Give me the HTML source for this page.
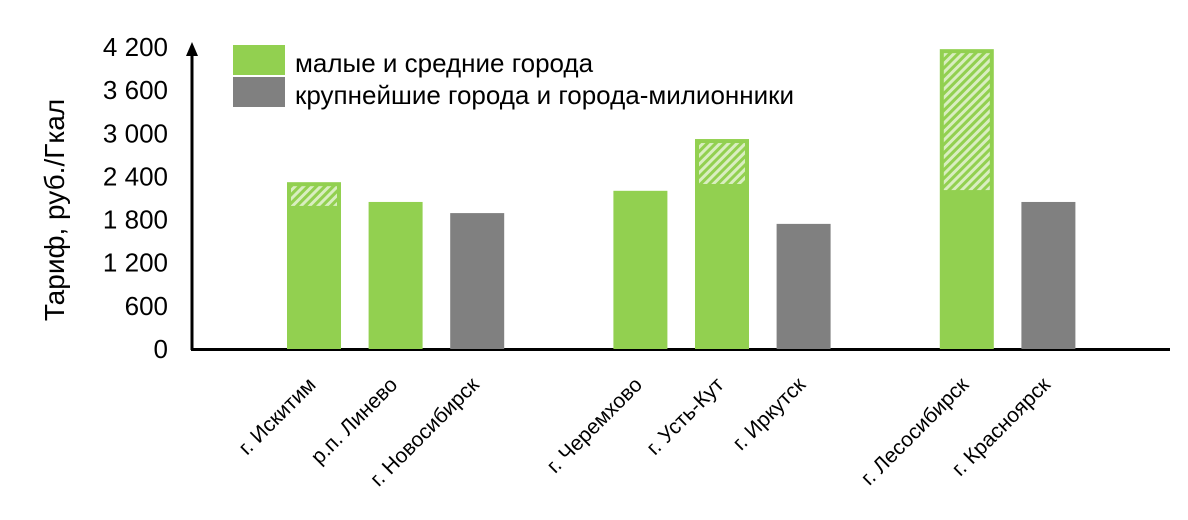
<!DOCTYPE html>
<html><head><meta charset="utf-8"><style>
body{margin:0;background:#fff}
svg{display:block;font-family:"Liberation Sans",Arial,sans-serif}
</style></head><body>
<svg id="chart" width="1188" height="520" viewBox="0 0 1188 520">
<defs>
<pattern id="hatch" patternUnits="userSpaceOnUse" width="6" height="6" patternTransform="rotate(45)">
<rect width="6" height="6" fill="#d9eec0"/>
<rect width="3" height="6" fill="#92d050"/>
</pattern>
</defs>
<g id="axes"></g>
<g id="bars"></g>
<g id="labels"></g>
<g>
<rect x="233" y="45" width="52" height="30" fill="#92d050"/>
<text x="295" y="72" font-size="26" fill="#000">малые и средние города</text>
<rect x="233" y="77" width="52" height="30" fill="#808080"/>
<text x="295" y="104" font-size="26" fill="#000">крупнейшие города и города-милионники</text>
</g>
<text transform="translate(64,210) rotate(-90)" text-anchor="middle" font-size="28">Тариф, руб./Гкал</text>
</svg>
<script>
const categories = ["г. Искитим","р.п. Линево","г. Новосибирск","г. Черемхово","г. Усть-Кут","г. Иркутск","г. Лесосибирск","г. Красноярск"];
const slots = [0,1,2,4,5,6,8,9];
const baseValues = [1990,2045,1890,2200,2295,1740,2210,2045];
const maxValues = [2320,null,null,null,2920,null,4170,null];
const groups = ["small","small","large","small","small","large","small","large"];
const yTicks = [0,600,1200,1800,2400,3000,3600,4200];
const yTickLabels = ["0","600","1 200","1 800","2 400","3 000","3 600","4 200"];

const NS="http://www.w3.org/2000/svg";
const y0=349, pxPer=(349-47)/4200;
const y=v=>y0-v*pxPer;
const x=s=>287+s*81.6;
const bw=54;
function mk(tag,attrs,parent){const e=document.createElementNS(NS,tag);for(const k in attrs)e.setAttribute(k,attrs[k]);parent.appendChild(e);return e;}
const axes=document.getElementById('axes'),bars=document.getElementById('bars'),labels=document.getElementById('labels');

yTicks.forEach((t,i)=>{
  const tx=mk('text',{x:168,y:y(t)+9,'text-anchor':'end','font-size':26},axes);
  tx.textContent=yTickLabels[i];
  
  
});
const ya=mk('line',{x1:192,y1:350,x2:192,y2:52,stroke:'#000','stroke-width':3},axes);


const ar=mk('path',{d:'M186,56 L192,42 L198,56 Z',fill:'#000'},axes);


const xa=mk('line',{x1:191,y1:349.5,x2:1170,y2:349.5,stroke:'#000','stroke-width':3},axes);



categories.forEach((c,i)=>{
  const bx=x(slots[i]);
  const col=groups[i]==='small'?'#92d050':'#808080';
  const top=maxValues[i]!=null?maxValues[i]:baseValues[i];
  const r=mk('rect',{x:bx,y:y(top),width:bw,height:y(0)-y(top),fill:col},bars);
  
  
  if(maxValues[i]!=null){
    const h=mk('rect',{x:bx+4,y:y(maxValues[i])+4,width:bw-8,height:y(baseValues[i])-y(maxValues[i])-4,fill:'url(#hatch)'},bars);
    
    
  }
  const cx=bx+bw/2+3, cy=386;
  const t=mk('text',{x:cx,y:cy,'text-anchor':'end','font-size':21,transform:`rotate(-45 ${cx} ${cy})`},labels);
  t.textContent=c;
  
  
});
</script>
</body></html>
